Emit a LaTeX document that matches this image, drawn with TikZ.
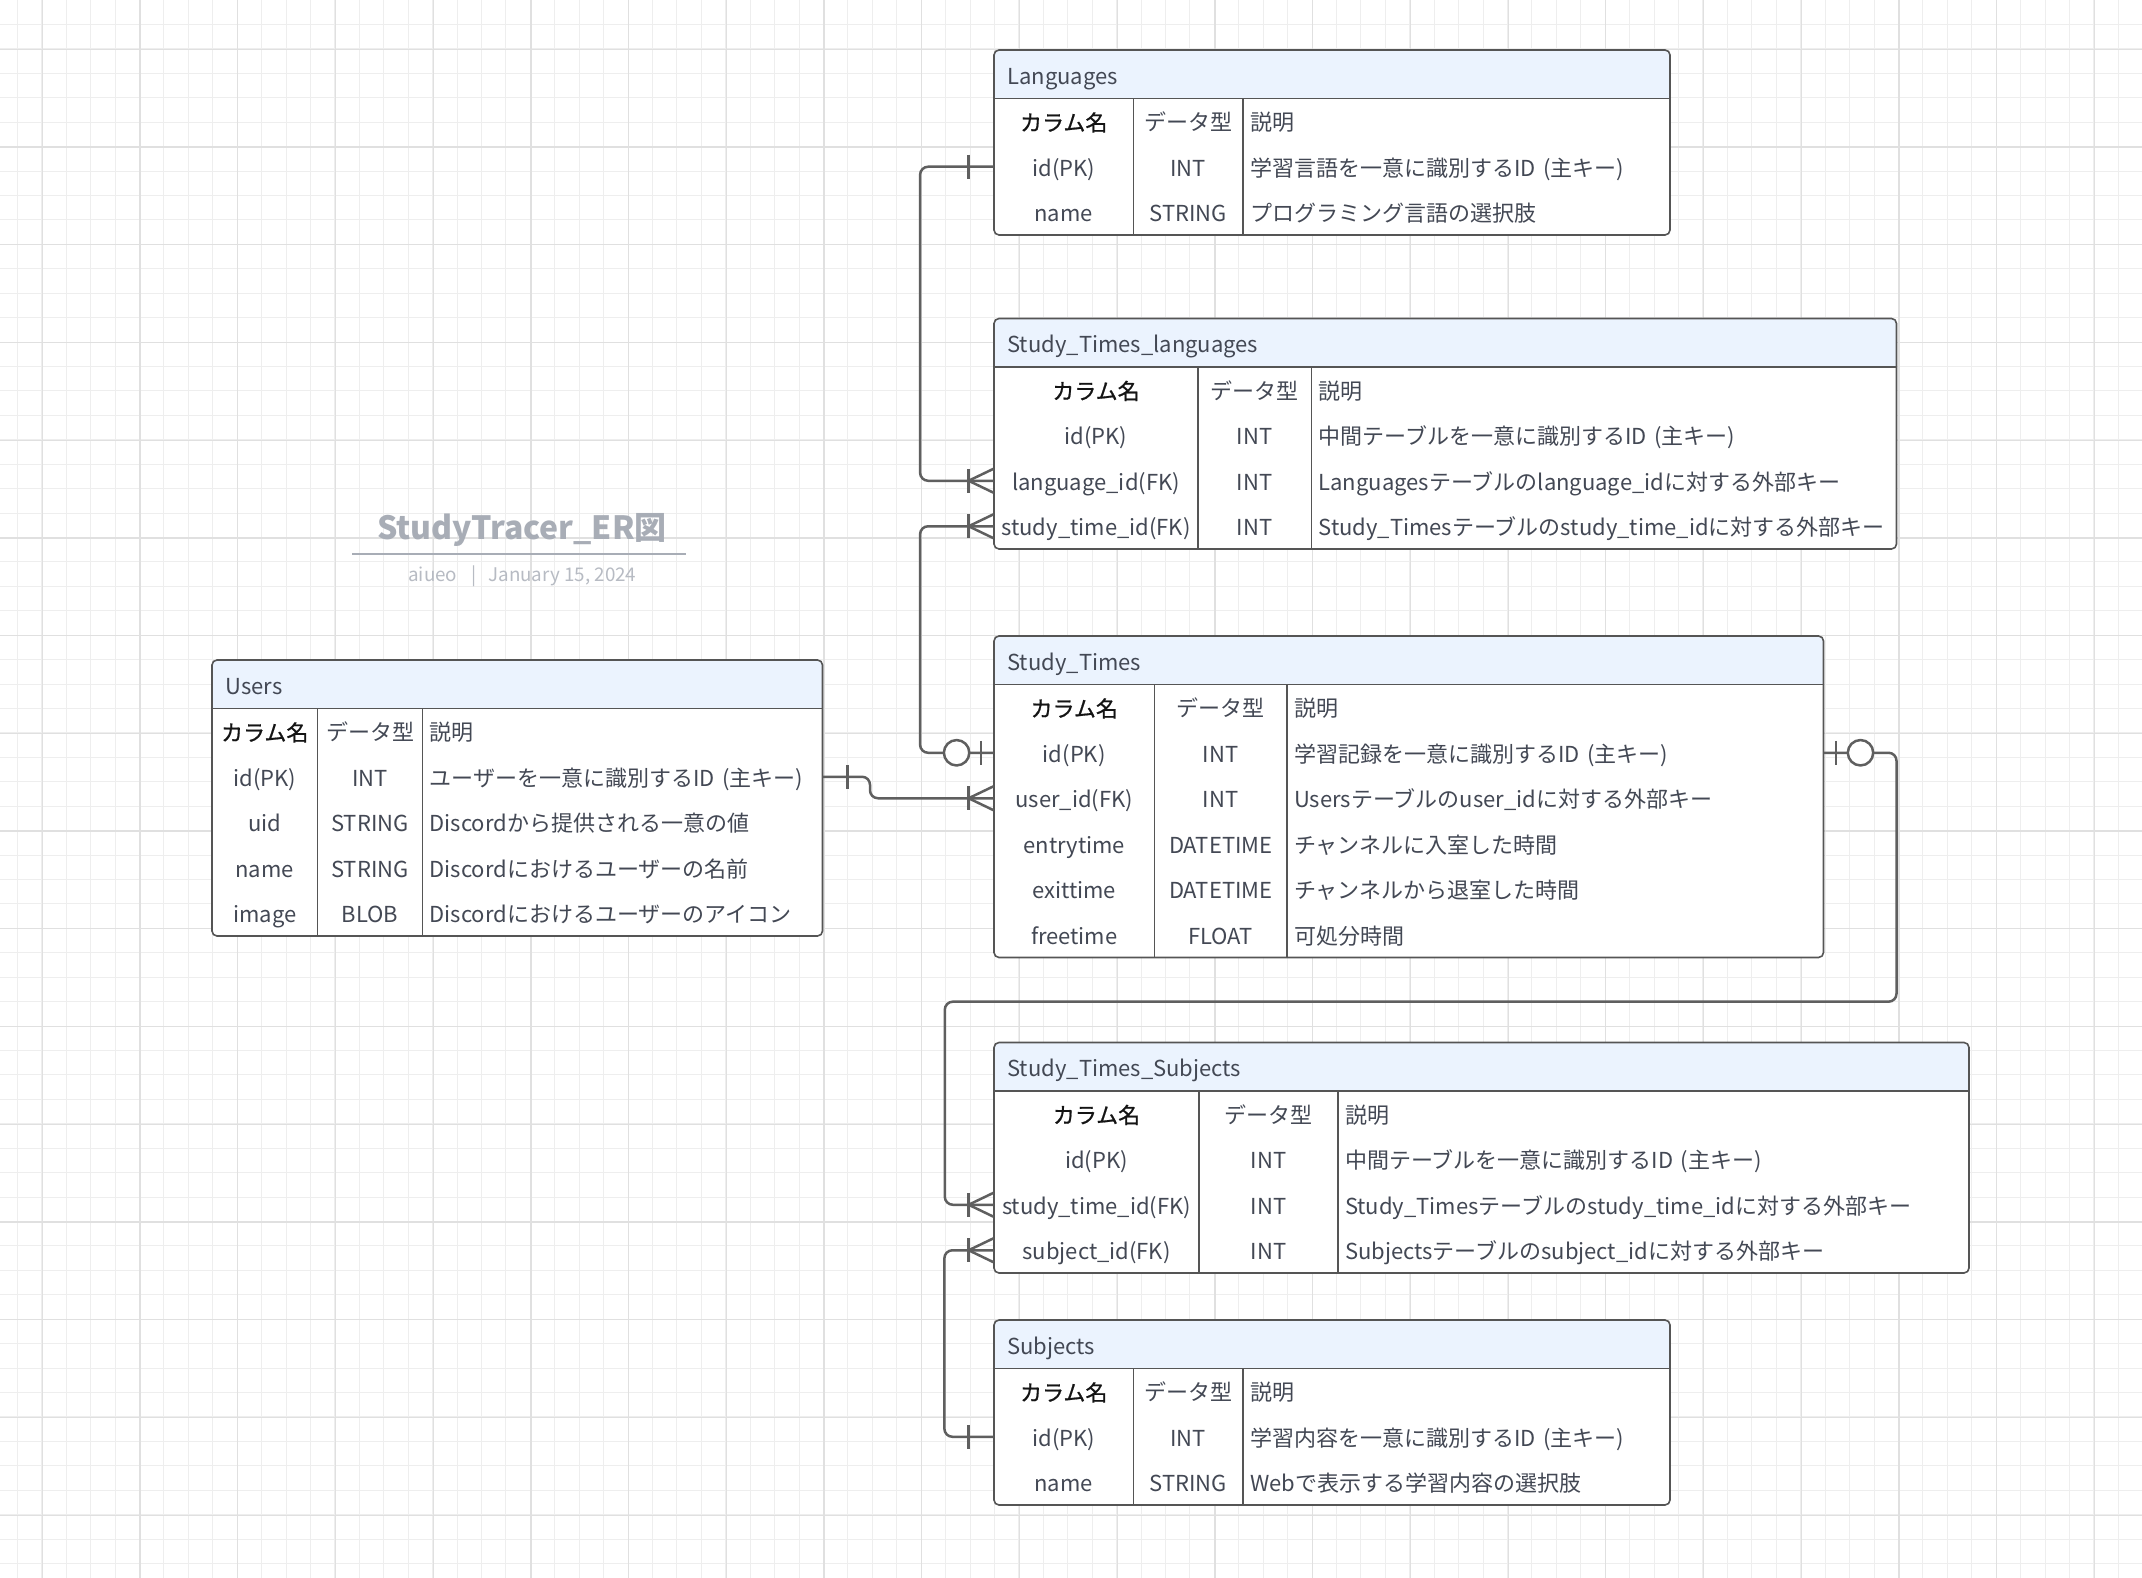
\documentclass[tikz,border=0pt]{standalone}
\usepackage{fontspec}
\setmainfont{Noto Sans CJK JP}
\newfontfamily\cjkmed{Noto Sans CJK JP}[FakeBold=0.8]
\definecolor{gridminor}{RGB}{238,238,238}
\definecolor{gridmajor}{RGB}{224,224,224}
\definecolor{tline}{RGB}{85,85,85}
\definecolor{hdrcol}{RGB}{235,243,254}
\definecolor{txt}{RGB}{67,72,84}
\definecolor{headblack}{RGB}{20,20,20}
\definecolor{cline}{RGB}{95,95,95}
\definecolor{titlec}{RGB}{168,173,182}
\definecolor{subc}{RGB}{183,187,195}
\newcommand\bodyfont{\fontsize{11pt}{13pt}\selectfont}
\newcommand\colname[1]{{\cjkmed\color{headblack}#1}}
% table frame
\newcommand\ertable[7]{%
  \pgfmathsetmacro\erL{#2}%
  \pgfmathsetmacro\erT{#3}%
  \pgfmathsetmacro\erA{#2+#4}%
  \pgfmathsetmacro\erB{#2+#4+#5}%
  \pgfmathsetmacro\erR{#2+#4+#5+#6}%
  \pgfmathsetmacro\erHb{#3+48.5}%
  \pgfmathsetmacro\erBot{#3+48.5+45.5*(#7+1)}%
  \pgfmathsetmacro\erW{(#4+#5+#6)*0.5}%
  \pgfmathsetmacro\erH{(48.5+45.5*(#7+1))*0.5}%
  \pgfmathsetmacro\erwA{#4*0.5}%
  \pgfmathsetmacro\erwB{#5*0.5}%
  \pgfmathsetmacro\erwC{(#6-7.5)*0.5}%
  \node[tframe, minimum width=\erW pt, minimum height=\erH pt, anchor=north west] (#1) at (\erL,\erT) {};
  \fill[hdrfill, rounded corners=2.5pt] (\erL,\erHb) -- (\erL,\erT) -- (\erR,\erT) -- (\erR,\erHb);
  \draw[tsep] (\erL,\erHb) -- (\erR,\erHb) (\erA,\erHb) -- (\erA,\erBot) (\erB,\erHb) -- (\erB,\erBot);
  \draw[tborder, rounded corners=2.5pt] (#1.north west) rectangle (#1.south east);
}
\newcommand\ertitle[2]{%
  \node[ttitle, anchor=west] (#1) at (\erL+13,\erT+24.5) {#2};
}
\newcommand\errow[5]{%
  \pgfmathsetmacro\erY{\erHb+45.5*(#2+0.5)}%
  \node[cellc, minimum width=\erwA pt] (#1-a) at ({(\erL+\erA)/2},\erY) {#3};
  \node[cellc, minimum width=\erwB pt] (#1-b) at ({(\erA+\erB)/2},\erY) {#4};
  \node[celll, text width=\erwC pt, anchor=east] (#1-c) at (\erR,\erY) {\mbox{#5}};
}
% relationship ends
\newcommand\oneL[1]{\draw[endmark] (#1) ++(-25,-12) -- ++(0,24);}
\newcommand\oneR[1]{\draw[endmark] (#1) ++(25,-12) -- ++(0,24);}
\newcommand\manyL[1]{\draw[endmark] (#1) ++(0,-12) -- ++(-25,12) -- ++(25,12);
  \draw[endmark] (#1) ++(-25,-12) -- ++(0,24);}
\newcommand\zoL[1]{\draw[endmark] (#1) ++(-12.5,-12) -- ++(0,24);
  \draw[endmark, fill=white] (#1) ++(-37,0) circle[radius=6.35pt];}
\newcommand\zoR[1]{\draw[endmark] (#1) ++(12.5,-12) -- ++(0,24);
  \draw[endmark, fill=white] (#1) ++(37,0) circle[radius=6.35pt];}
\begin{document}
\begin{tikzpicture}[x=0.5pt,y=-0.5pt,
  minorgrid/.style={draw=gridminor, line width=0.5pt},
  majorgrid/.style={draw=gridmajor, line width=0.6pt},
  tframe/.style={fill=white, draw=none, inner sep=0pt, outer sep=0pt, rounded corners=2.5pt},
  hdrfill/.style={fill=hdrcol},
  tsep/.style={draw=tline, line width=0.75pt},
  tborder/.style={draw=tline, line width=0.8pt},
  ttitle/.style={inner sep=0pt, font=\bodyfont, text=txt, text height=1.02em, text depth=0.06em},
  cellc/.style={inner sep=0pt, minimum height=22.75pt, text height=1.02em, text depth=0.06em, align=center, font=\bodyfont, text=txt},
  celll/.style={inner sep=0pt, minimum height=22.75pt, text height=1.02em, text depth=0.06em, align=left, font=\bodyfont, text=txt},
  conn/.style={draw=cline, line width=1.25pt, rounded corners=4pt},
  endmark/.style={draw=cline, line width=1.25pt},
  titletext/.style={inner sep=0pt, font=\fontsize{16pt}{19pt}\selectfont\bfseries, text=titlec},
  subtext/.style={inner sep=0pt, font=\fontsize{9.4pt}{11pt}\selectfont, text=subc},
]
\useasboundingbox (0,0) rectangle (2142,1578);
\fill[white] (0,0) rectangle (2142,1578);
% grid
\foreach \i in {0,...,86} \draw[minorgrid] ({17.3+\i*24.43},0) -- ({17.3+\i*24.43},1578);
\foreach \i in {0,...,64} \draw[minorgrid] (0,{\i*24.43}) -- (2142,{\i*24.43});
\foreach \i in {0,...,21} \draw[majorgrid] ({42.3+\i*97.72},0) -- ({42.3+\i*97.72},1578);
\foreach \i in {0,...,15} \draw[majorgrid] (0,{49.3+\i*97.72}) -- (2142,{49.3+\i*97.72});

% title block
\node[titletext, anchor=base] (title) at (522,539.2) {StudyTracer\_ER図};
\draw[draw=titlec, line width=1.15pt] (352.3,553.8) -- (685.7,553.8);
\node[subtext, anchor=base west] (author) at (408,581.7) {aiueo};
\node[subtext, anchor=base] (bar) at (474,581.7) {|};
\node[subtext, anchor=base west] (date) at (488,581.7) {January 15, 2024};

% Languages
\ertable{lang}{994}{50}{139.5}{109.5}{427}{2}
\ertitle{lang-title}{Languages}
\errow{lang-h}{0}{\colname{カラム名}}{データ型}{説明}
\errow{lang-id}{1}{id(PK)}{INT}{学習言語を一意に識別するID (主キー)}
\errow{lang-name}{2}{name}{STRING}{プログラミング言語の選択肢}

% Study_Times_languages
\ertable{stl}{994}{318.5}{204}{113.5}{585}{3}
\ertitle{stl-title}{Study\_Times\_languages}
\errow{stl-h}{0}{\colname{カラム名}}{データ型}{説明}
\errow{stl-id}{1}{id(PK)}{INT}{中間テーブルを一意に識別するID (主キー)}
\errow{stl-lang}{2}{language\_id(FK)}{INT}{Languagesテーブルのlanguage\_idに対する外部キー}
\errow{stl-st}{3}{study\_time\_id(FK)}{INT}{Study\_Timesテーブルのstudy\_time\_idに対する外部キー}

% Study_Times
\ertable{st}{994}{636}{160.5}{132.5}{536.5}{5}
\ertitle{st-title}{Study\_Times}
\errow{st-h}{0}{\colname{カラム名}}{データ型}{説明}
\errow{st-id}{1}{id(PK)}{INT}{学習記録を一意に識別するID (主キー)}
\errow{st-uid}{2}{user\_id(FK)}{INT}{Usersテーブルのuser\_idに対する外部キー}
\errow{st-entry}{3}{entrytime}{DATETIME}{チャンネルに入室した時間}
\errow{st-exit}{4}{exittime}{DATETIME}{チャンネルから退室した時間}
\errow{st-free}{5}{freetime}{FLOAT}{可処分時間}

% Study_Times_Subjects
\ertable{sts}{994}{1042.5}{205}{139}{631}{3}
\ertitle{sts-title}{Study\_Times\_Subjects}
\errow{sts-h}{0}{\colname{カラム名}}{データ型}{説明}
\errow{sts-id}{1}{id(PK)}{INT}{中間テーブルを一意に識別するID (主キー)}
\errow{sts-st}{2}{study\_time\_id(FK)}{INT}{Study\_Timesテーブルのstudy\_time\_idに対する外部キー}
\errow{sts-sub}{3}{subject\_id(FK)}{INT}{Subjectsテーブルのsubject\_idに対する外部キー}

% Subjects
\ertable{sub}{994}{1320}{139.5}{109.5}{427}{2}
\ertitle{sub-title}{Subjects}
\errow{sub-h}{0}{\colname{カラム名}}{データ型}{説明}
\errow{sub-id}{1}{id(PK)}{INT}{学習内容を一意に識別するID (主キー)}
\errow{sub-name}{2}{name}{STRING}{Webで表示する学習内容の選択肢}

% Users
\ertable{users}{212}{660}{105.5}{105}{400}{4}
\ertitle{users-title}{Users}
\errow{users-h}{0}{\colname{カラム名}}{データ型}{説明}
\errow{users-id}{1}{id(PK)}{INT}{ユーザーを一意に識別するID (主キー)}
\errow{users-uid}{2}{uid}{STRING}{Discordから提供される一意の値}
\errow{users-name}{3}{name}{STRING}{Discordにおけるユーザーの名前}
\errow{users-img}{4}{image}{BLOB}{Discordにおけるユーザーのアイコン}

% connectors
\coordinate (bend4) at (944.8,1001.7);
\draw[conn] (lang-id-a.west) -- ++(-73.5,0) |- (stl-lang-a.west);
\draw[conn] (stl-st-a.west) -- ++(-73.5,0) |- (st-id-a.west);
\draw[conn] (users-id-c.east) -- ++(47.5,0) |- (st-uid-a.west);
\draw[conn] (st-id-c.east) -- ++(73,0) |- (bend4) |- (sts-st-a.west);
\draw[conn] (sub-id-a.west) -- ++(-49.2,0) |- (sts-sub-a.west);

% ends
\oneL{lang-id-a.west}
\manyL{stl-lang-a.west}
\manyL{stl-st-a.west}
\zoL{st-id-a.west}
\oneR{users-id-c.east}
\manyL{st-uid-a.west}
\zoR{st-id-c.east}
\manyL{sts-st-a.west}
\manyL{sts-sub-a.west}
\oneL{sub-id-a.west}
\end{tikzpicture}
\end{document}
